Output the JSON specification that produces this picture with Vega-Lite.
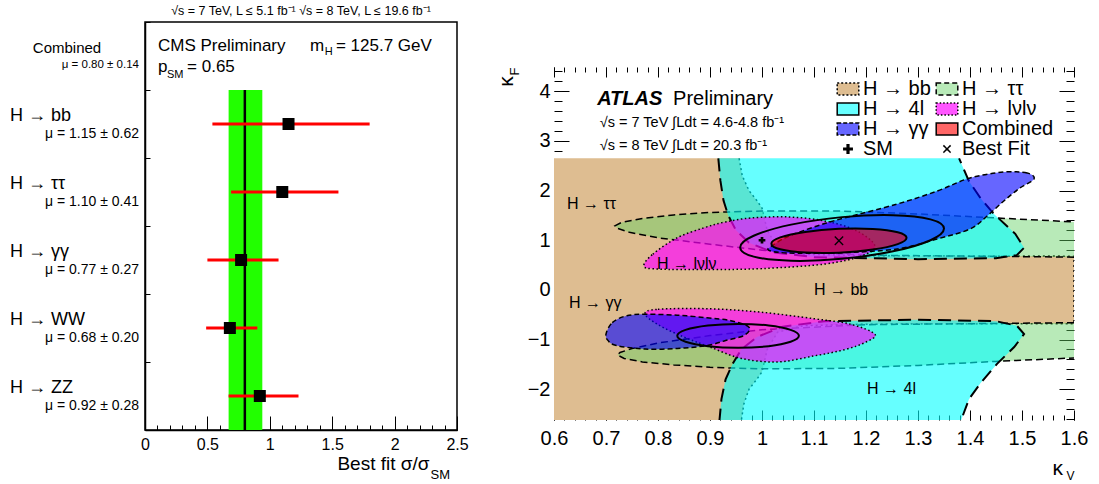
{
"$schema": "https://vega.github.io/schema/vega-lite/v6.json",
"background": "white",
"padding": {"left": 9, "top": 4, "right": 5, "bottom": 0},
"spacing": 26,
"resolve": {"legend": {"fill": "independent", "shape": "independent", "strokeDash": "independent"}},
"config": {
 "font": "Liberation Sans",
 "view": {"stroke": "black", "strokeWidth": 1.5},
 "axis": {"grid": false, "labelFont": "Liberation Sans", "titleFont": "Liberation Sans", "titleFontWeight": "normal", "labelColor": "black", "titleColor": "black", "tickColor": "black", "domainColor": "black", "domainWidth": 1.5, "tickWidth": 1, "zindex": 1, "labelFlush": false, "labelOverlap": false, "labelBound": false},
 "title": {"font": "Liberation Sans", "color": "black", "fontWeight": "normal"},
 "legend": {"labelFont": "Liberation Sans", "labelColor": "black"},
 "text": {"font": "Liberation Sans", "color": "black"}
},
"datasets": {
 "mu": [
  {"ch": "Combined", "mu": 0.80, "lo": 0.67, "hi": 0.94, "mt": "μ = 0.80 ± 0.14"},
  {"ch": "H → bb", "mu": 1.15, "lo": 0.54, "hi": 1.80, "mt": "μ = 1.15 ± 0.62"},
  {"ch": "H → ττ", "mu": 1.10, "lo": 0.69, "hi": 1.55, "mt": "μ = 1.10 ± 0.41"},
  {"ch": "H → γγ", "mu": 0.77, "lo": 0.50, "hi": 1.07, "mt": "μ = 0.77 ± 0.27"},
  {"ch": "H → WW", "mu": 0.68, "lo": 0.49, "hi": 0.90, "mt": "μ = 0.68 ± 0.20"},
  {"ch": "H → ZZ", "mu": 0.92, "lo": 0.67, "hi": 1.23, "mt": "μ = 0.92 ± 0.28"}
 ],
 "contours": [
  {"part":"bb","i":0,"kv":0.956,"kf":2.65},{"part":"bb","i":1,"kv":0.962,"kf":2.3},{"part":"bb","i":2,"kv":0.975,"kf":2.0},{"part":"bb","i":3,"kv":0.99,"kf":1.8},{"part":"bb","i":4,"kv":1.0,"kf":1.65},{"part":"bb","i":5,"kv":1.01,"kf":1.2},{"part":"bb","i":6,"kv":1.03,"kf":0.85},{"part":"bb","i":7,"kv":1.08,"kf":0.72},{"part":"bb","i":8,"kv":1.2,"kf":0.69},{"part":"bb","i":9,"kv":1.6,"kf":0.68},{"part":"bb","i":10,"kv":1.6,"kf":-0.68},{"part":"bb","i":11,"kv":1.2,"kf":-0.69},{"part":"bb","i":12,"kv":1.08,"kf":-0.72},{"part":"bb","i":13,"kv":1.03,"kf":-0.85},{"part":"bb","i":14,"kv":1.01,"kf":-1.2},{"part":"bb","i":15,"kv":1.0,"kf":-1.65},{"part":"bb","i":16,"kv":0.99,"kf":-1.8},{"part":"bb","i":17,"kv":0.975,"kf":-2.0},{"part":"bb","i":18,"kv":0.965,"kf":-2.3},{"part":"bb","i":19,"kv":0.96,"kf":-2.65},{"part":"bb","i":20,"kv":0.6,"kf":-2.65},{"part":"bb","i":21,"kv":0.6,"kf":2.65},
  {"part":"tt_u","i":0,"kv":1.6,"kf":0.66},{"part":"tt_u","i":1,"kv":1.4,"kf":0.68},{"part":"tt_u","i":2,"kv":1.2,"kf":0.7},{"part":"tt_u","i":3,"kv":1.0,"kf":0.8},{"part":"tt_u","i":4,"kv":0.9,"kf":0.92},{"part":"tt_u","i":5,"kv":0.8,"kf":1.05},{"part":"tt_u","i":6,"kv":0.745,"kf":1.16},{"part":"tt_u","i":7,"kv":0.722,"kf":1.24},{"part":"tt_u","i":8,"kv":0.717,"kf":1.29},{"part":"tt_u","i":9,"kv":0.73,"kf":1.36},{"part":"tt_u","i":10,"kv":0.77,"kf":1.44},{"part":"tt_u","i":11,"kv":0.83,"kf":1.51},{"part":"tt_u","i":12,"kv":0.9,"kf":1.56},{"part":"tt_u","i":13,"kv":1.0,"kf":1.59},{"part":"tt_u","i":14,"kv":1.15,"kf":1.59},{"part":"tt_u","i":15,"kv":1.3,"kf":1.53},{"part":"tt_u","i":16,"kv":1.45,"kf":1.45},{"part":"tt_u","i":17,"kv":1.6,"kf":1.37},
  {"part":"tt_d","i":0,"kv":1.6,"kf":-0.66},{"part":"tt_d","i":1,"kv":1.4,"kf":-0.68},{"part":"tt_d","i":2,"kv":1.2,"kf":-0.7},{"part":"tt_d","i":3,"kv":1.0,"kf":-0.8},{"part":"tt_d","i":4,"kv":0.9,"kf":-0.92},{"part":"tt_d","i":5,"kv":0.8,"kf":-1.07},{"part":"tt_d","i":6,"kv":0.75,"kf":-1.18},{"part":"tt_d","i":7,"kv":0.727,"kf":-1.26},{"part":"tt_d","i":8,"kv":0.722,"kf":-1.31},{"part":"tt_d","i":9,"kv":0.735,"kf":-1.38},{"part":"tt_d","i":10,"kv":0.77,"kf":-1.45},{"part":"tt_d","i":11,"kv":0.83,"kf":-1.51},{"part":"tt_d","i":12,"kv":0.9,"kf":-1.56},{"part":"tt_d","i":13,"kv":1.0,"kf":-1.59},{"part":"tt_d","i":14,"kv":1.15,"kf":-1.58},{"part":"tt_d","i":15,"kv":1.3,"kf":-1.52},{"part":"tt_d","i":16,"kv":1.45,"kf":-1.44},{"part":"tt_d","i":17,"kv":1.6,"kf":-1.37},
  {"part":"4l_u","i":0,"kv":0.916,"kf":2.65},{"part":"4l_u","i":1,"kv":0.92,"kf":2.2},{"part":"4l_u","i":2,"kv":0.926,"kf":1.8},{"part":"4l_u","i":3,"kv":0.935,"kf":1.5},{"part":"4l_u","i":4,"kv":0.95,"kf":1.2},{"part":"4l_u","i":5,"kv":0.975,"kf":0.95},{"part":"4l_u","i":6,"kv":1.02,"kf":0.76},{"part":"4l_u","i":7,"kv":1.1,"kf":0.66},{"part":"4l_u","i":8,"kv":1.3,"kf":0.62},{"part":"4l_u","i":9,"kv":1.45,"kf":0.64},{"part":"4l_u","i":10,"kv":1.49,"kf":0.7},{"part":"4l_u","i":11,"kv":1.504,"kf":0.85},{"part":"4l_u","i":12,"kv":1.487,"kf":1.13},{"part":"4l_u","i":13,"kv":1.446,"kf":1.53},{"part":"4l_u","i":14,"kv":1.42,"kf":1.85},{"part":"4l_u","i":15,"kv":1.398,"kf":2.19},{"part":"4l_u","i":16,"kv":1.379,"kf":2.65},
  {"part":"4l_d","i":0,"kv":0.918,"kf":-2.65},{"part":"4l_d","i":1,"kv":0.922,"kf":-2.2},{"part":"4l_d","i":2,"kv":0.93,"kf":-1.8},{"part":"4l_d","i":3,"kv":0.943,"kf":-1.5},{"part":"4l_d","i":4,"kv":0.96,"kf":-1.2},{"part":"4l_d","i":5,"kv":0.99,"kf":-0.95},{"part":"4l_d","i":6,"kv":1.04,"kf":-0.74},{"part":"4l_d","i":7,"kv":1.12,"kf":-0.63},{"part":"4l_d","i":8,"kv":1.3,"kf":-0.6},{"part":"4l_d","i":9,"kv":1.45,"kf":-0.63},{"part":"4l_d","i":10,"kv":1.49,"kf":-0.72},{"part":"4l_d","i":11,"kv":1.504,"kf":-0.89},{"part":"4l_d","i":12,"kv":1.485,"kf":-1.15},{"part":"4l_d","i":13,"kv":1.452,"kf":-1.49},{"part":"4l_d","i":14,"kv":1.42,"kf":-1.88},{"part":"4l_d","i":15,"kv":1.398,"kf":-2.2},{"part":"4l_d","i":16,"kv":1.382,"kf":-2.65},
  {"part":"lv_u","i":0,"kv":0.773,"kf":0.48},{"part":"lv_u","i":1,"kv":0.79,"kf":0.72},{"part":"lv_u","i":2,"kv":0.837,"kf":1.05},{"part":"lv_u","i":3,"kv":0.888,"kf":1.25},{"part":"lv_u","i":4,"kv":0.93,"kf":1.37},{"part":"lv_u","i":5,"kv":0.98,"kf":1.45},{"part":"lv_u","i":6,"kv":1.05,"kf":1.47},{"part":"lv_u","i":7,"kv":1.12,"kf":1.39},{"part":"lv_u","i":8,"kv":1.18,"kf":1.2},{"part":"lv_u","i":9,"kv":1.217,"kf":0.89},{"part":"lv_u","i":10,"kv":1.19,"kf":0.68},{"part":"lv_u","i":11,"kv":1.12,"kf":0.52},{"part":"lv_u","i":12,"kv":1.0,"kf":0.43},{"part":"lv_u","i":13,"kv":0.9,"kf":0.41},{"part":"lv_u","i":14,"kv":0.8,"kf":0.42},
  {"part":"lv_d","i":0,"kv":0.775,"kf":-0.48},{"part":"lv_d","i":1,"kv":0.8,"kf":-0.39},{"part":"lv_d","i":2,"kv":0.9,"kf":-0.38},{"part":"lv_d","i":3,"kv":1.0,"kf":-0.45},{"part":"lv_d","i":4,"kv":1.1,"kf":-0.58},{"part":"lv_d","i":5,"kv":1.17,"kf":-0.69},{"part":"lv_d","i":6,"kv":1.217,"kf":-0.89},{"part":"lv_d","i":7,"kv":1.2,"kf":-1.05},{"part":"lv_d","i":8,"kv":1.16,"kf":-1.2},{"part":"lv_d","i":9,"kv":1.1,"kf":-1.33},{"part":"lv_d","i":10,"kv":1.03,"kf":-1.45},{"part":"lv_d","i":11,"kv":0.96,"kf":-1.38},{"part":"lv_d","i":12,"kv":0.9,"kf":-1.15},{"part":"lv_d","i":13,"kv":0.85,"kf":-0.95},{"part":"lv_d","i":14,"kv":0.8,"kf":-0.7},
  {"part":"gg_u","i":0,"kv":1.523,"kf":2.233},{"part":"gg_u","i":1,"kv":1.51,"kf":2.354},{"part":"gg_u","i":2,"kv":1.465,"kf":2.374},{"part":"gg_u","i":3,"kv":1.4,"kf":2.254},{"part":"gg_u","i":4,"kv":1.337,"kf":1.992},{"part":"gg_u","i":5,"kv":1.26,"kf":1.73},{"part":"gg_u","i":6,"kv":1.158,"kf":1.449},{"part":"gg_u","i":7,"kv":1.106,"kf":1.288},{"part":"gg_u","i":8,"kv":1.048,"kf":1.066},{"part":"gg_u","i":9,"kv":1.019,"kf":0.885},{"part":"gg_u","i":10,"kv":1.013,"kf":0.8},{"part":"gg_u","i":11,"kv":1.048,"kf":0.745},{"part":"gg_u","i":12,"kv":1.144,"kf":0.745},{"part":"gg_u","i":13,"kv":1.26,"kf":0.825},{"part":"gg_u","i":14,"kv":1.337,"kf":1.026},{"part":"gg_u","i":15,"kv":1.4,"kf":1.227},{"part":"gg_u","i":16,"kv":1.433,"kf":1.489},{"part":"gg_u","i":17,"kv":1.465,"kf":1.791},{"part":"gg_u","i":18,"kv":1.496,"kf":2.052},
  {"part":"gg_d","i":0,"kv":0.7,"kf":-0.89},{"part":"gg_d","i":1,"kv":0.712,"kf":-0.66},{"part":"gg_d","i":2,"kv":0.74,"kf":-0.52},{"part":"gg_d","i":3,"kv":0.779,"kf":-0.49},{"part":"gg_d","i":4,"kv":0.837,"kf":-0.51},{"part":"gg_d","i":5,"kv":0.894,"kf":-0.56},{"part":"gg_d","i":6,"kv":0.94,"kf":-0.62},{"part":"gg_d","i":7,"kv":0.975,"kf":-0.75},{"part":"gg_d","i":8,"kv":0.965,"kf":-0.92},{"part":"gg_d","i":9,"kv":0.93,"kf":-1.02},{"part":"gg_d","i":10,"kv":0.894,"kf":-1.12},{"part":"gg_d","i":11,"kv":0.837,"kf":-1.18},{"part":"gg_d","i":12,"kv":0.775,"kf":-1.19},{"part":"gg_d","i":13,"kv":0.72,"kf":-1.12},{"part":"gg_d","i":14,"kv":0.704,"kf":-1.02},
  {"part":"co_in","i":0,"kv":1.278,"kf":1.05},{"part":"co_in","i":1,"kv":1.261,"kf":1.162},{"part":"co_in","i":2,"kv":1.213,"kf":1.228},{"part":"co_in","i":3,"kv":1.148,"kf":1.23},{"part":"co_in","i":4,"kv":1.083,"kf":1.168},{"part":"co_in","i":5,"kv":1.035,"kf":1.058},{"part":"co_in","i":6,"kv":1.018,"kf":0.93},{"part":"co_in","i":7,"kv":1.035,"kf":0.818},{"part":"co_in","i":8,"kv":1.083,"kf":0.752},{"part":"co_in","i":9,"kv":1.148,"kf":0.75},{"part":"co_in","i":10,"kv":1.213,"kf":0.812},{"part":"co_in","i":11,"kv":1.261,"kf":0.922},
  {"part":"co_out","i":0,"kv":1.35,"kf":1.236},{"part":"co_out","i":1,"kv":1.324,"kf":1.421},{"part":"co_out","i":2,"kv":1.252,"kf":1.505},{"part":"co_out","i":3,"kv":1.154,"kf":1.466},{"part":"co_out","i":4,"kv":1.056,"kf":1.315},{"part":"co_out","i":5,"kv":0.984,"kf":1.091},{"part":"co_out","i":6,"kv":0.958,"kf":0.856},{"part":"co_out","i":7,"kv":0.984,"kf":0.671},{"part":"co_out","i":8,"kv":1.056,"kf":0.587},{"part":"co_out","i":9,"kv":1.154,"kf":0.626},{"part":"co_out","i":10,"kv":1.252,"kf":0.777},{"part":"co_out","i":11,"kv":1.324,"kf":1.001},
  {"part":"co_out2","i":0,"kv":1.071,"kf":-0.925},{"part":"co_out2","i":1,"kv":1.055,"kf":-0.805},{"part":"co_out2","i":2,"kv":1.013,"kf":-0.717},{"part":"co_out2","i":3,"kv":0.954,"kf":-0.685},{"part":"co_out2","i":4,"kv":0.896,"kf":-0.717},{"part":"co_out2","i":5,"kv":0.853,"kf":-0.805},{"part":"co_out2","i":6,"kv":0.837,"kf":-0.925},{"part":"co_out2","i":7,"kv":0.853,"kf":-1.045},{"part":"co_out2","i":8,"kv":0.896,"kf":-1.133},{"part":"co_out2","i":9,"kv":0.954,"kf":-1.165},{"part":"co_out2","i":10,"kv":1.013,"kf":-1.133},{"part":"co_out2","i":11,"kv":1.055,"kf":-1.045}
 ]
},
"hconcat": [
 {
  "width": 312, "height": 408,
  "title": {"text": "√s = 7 TeV, L ≤ 5.1 fb⁻¹  √s = 8 TeV, L ≤ 19.6 fb⁻¹", "fontSize": 12.5, "fontWeight": "normal", "offset": 4, "anchor": "middle"},
  "data": {"name": "mu"},
  "encoding": {
   "x": {"field": "mu", "type": "quantitative", "scale": {"domain": [0, 2.5], "nice": false, "zero": false}, "axis": null},
   "y": {"field": "ch", "type": "nominal", "scale": {"type": "band", "domain": ["Combined", "H → bb", "H → ττ", "H → γγ", "H → WW", "H → ZZ"], "paddingInner": 0, "paddingOuter": 0}, "axis": null}
  },
  "resolve": {"axis": {"x": "independent", "y": "independent"}},
  "layer": [
   {"transform": [{"filter": "datum.ch == 'Combined'"}],
    "mark": {"type": "rect", "color": "#22ff00"},
    "encoding": {
     "x": {"field": "lo", "type": "quantitative", "axis": null},
     "x2": {"field": "hi"},
     "y": {"datum": "H → bb", "bandPosition": 0, "axis": null},
     "y2": {"datum": "H → ZZ", "bandPosition": 1}
    }},
   {"transform": [{"filter": "datum.ch == 'Combined'"}],
    "mark": {"type": "rule", "color": "black", "strokeWidth": 2.5},
    "encoding": {
     "y": {"datum": "H → bb", "bandPosition": 0, "axis": null},
     "y2": {"datum": "H → ZZ", "bandPosition": 1}
    }},
   {"transform": [{"filter": "datum.ch != 'Combined'"}],
    "mark": {"type": "rule", "color": "#ff0000", "strokeWidth": 3},
    "encoding": {
     "x": {"field": "lo", "type": "quantitative", "axis": null},
     "x2": {"field": "hi"}
    }},
   {"transform": [{"filter": "datum.ch != 'Combined'"}],
    "mark": {"type": "point", "shape": "square", "filled": true, "color": "black", "size": 144, "opacity": 1}},
   {"transform": [{"filter": "datum.ch != 'Combined'"}],
    "mark": {"type": "text", "align": "left", "baseline": "alphabetic", "dx": -135, "dy": -3, "fontSize": 18},
    "encoding": {"x": {"datum": 0, "axis": null}, "text": {"field": "ch"}}},
   {"transform": [{"filter": "datum.ch != 'Combined'"}],
    "mark": {"type": "text", "align": "right", "baseline": "alphabetic", "dx": -6, "dy": 14, "fontSize": 14},
    "encoding": {"x": {"datum": 0, "axis": null}, "text": {"field": "mt"}}},
   {"transform": [{"filter": "datum.ch == 'Combined'"}],
    "mark": {"type": "text", "align": "center", "baseline": "alphabetic", "dx": -78, "dy": -3, "fontSize": 15},
    "encoding": {"x": {"datum": 0, "axis": null}, "text": {"field": "ch"}}},
   {"transform": [{"filter": "datum.ch == 'Combined'"}],
    "mark": {"type": "text", "align": "right", "baseline": "alphabetic", "dx": -6, "dy": 12, "fontSize": 11.5},
    "encoding": {"x": {"datum": 0, "axis": null}, "text": {"field": "mt"}}},
   {"data": {"values": [{"t": "CMS Preliminary", "x": 0.104}, {"t": "m", "x": 1.322}, {"t": "= 125.7 GeV", "x": 1.53}]},
    "mark": {"type": "text", "align": "left", "baseline": "alphabetic", "dy": -5, "fontSize": 17},
    "encoding": {"x": {"field": "x", "type": "quantitative", "axis": null}, "y": {"datum": "Combined", "axis": null}, "text": {"field": "t"}}},
   {"data": {"values": [{"t": "H", "x": 1.44}]},
    "mark": {"type": "text", "align": "left", "baseline": "alphabetic", "dy": -1, "fontSize": 11},
    "encoding": {"x": {"field": "x", "type": "quantitative", "axis": null}, "y": {"datum": "Combined", "axis": null}, "text": {"field": "t"}}},
   {"data": {"values": [{"t": "p", "x": 0.104}, {"t": "= 0.65", "x": 0.337}]},
    "mark": {"type": "text", "align": "left", "baseline": "alphabetic", "dy": 16, "fontSize": 17},
    "encoding": {"x": {"field": "x", "type": "quantitative", "axis": null}, "y": {"datum": "Combined", "axis": null}, "text": {"field": "t"}}},
   {"data": {"values": [{"t": "SM", "x": 0.176}]},
    "mark": {"type": "text", "align": "left", "baseline": "alphabetic", "dy": 22, "fontSize": 11},
    "encoding": {"x": {"field": "x", "type": "quantitative", "axis": null}, "y": {"datum": "Combined", "axis": null}, "text": {"field": "t"}}},
   {"transform": [{"filter": "false"}],
    "mark": {"type": "point", "opacity": 0},
    "encoding": {
     "x": {"field": "mu", "type": "quantitative", "scale": {"domain": [0, 2.5], "nice": false, "zero": false},
       "axis": {"orient": "bottom", "values": [0, 0.5, 1, 1.5, 2, 2.5], "format": "~g", "labelFontSize": 16, "ticks": false, "tickSize": 0, "domain": false, "labelPadding": 6, "title": "Best fit σ/σ", "titleFontSize": 19, "titleX": 284, "titleY": 39, "titleAlign": "right", "titleBaseline": "alphabetic"}},
     "y": {"field": "ch", "type": "nominal", "axis": null}
    }},
   {"transform": [{"filter": "false"}],
    "mark": {"type": "point", "opacity": 0},
    "encoding": {
     "x": {"field": "mu", "type": "quantitative",
       "axis": {"orient": "top", "offset": -408, "values": [0, 0.5, 1, 1.5, 2, 2.5], "labels": false, "tickSize": 14, "domain": true, "title": "SM", "titleFontSize": 13, "titleX": 285, "titleY": 48, "titleAlign": "left", "titleBaseline": "alphabetic"}},
     "y": {"field": "ch", "type": "nominal",
       "axis": {"orient": "right", "offset": -312, "bandPosition": 0, "labels": false, "tickSize": 5, "domain": true, "title": null}}
    }},
   {"transform": [{"filter": "false"}],
    "mark": {"type": "point", "opacity": 0},
    "encoding": {
     "x": {"field": "mu", "type": "quantitative",
       "axis": {"orient": "top", "offset": -408, "values": [0,0.1,0.2,0.3,0.4,0.5,0.6,0.7,0.8,0.9,1,1.1,1.2,1.3,1.4,1.5,1.6,1.7,1.8,1.9,2,2.1,2.2,2.3,2.4,2.5], "labels": false, "tickSize": 5, "domain": false, "title": null}},
     "y": {"field": "ch", "type": "nominal", "axis": null}
    }}
  ]
 },
 {
  "width": 520, "height": 398,
  "view": {"stroke": null},
  "data": {"name": "contours"},
  "encoding": {
   "x": {"field": "kv", "type": "quantitative", "scale": {"domain": [0.6, 1.6], "nice": false, "zero": false}, "axis": null},
   "y": {"field": "kf", "type": "quantitative", "scale": {"domain": [-2.62, 5.396], "nice": false, "zero": false}, "axis": null}
  },
  "resolve": {"axis": {"x": "independent", "y": "independent"}},
  "layer": [
   {"transform": [{"filter": "datum.part == 'bb'"}],
    "mark": {"type": "line", "interpolate": "linear-closed", "fill": "#DEBD91", "fillOpacity": 1, "strokeOpacity": 0, "clip": true},
    "encoding": {"order": {"field": "i", "type": "quantitative"}}},
   {"transform": [{"filter": "datum.part == 'bb' && datum.kv > 0.6"}],
    "mark": {"type": "line", "interpolate": "linear", "color": "black", "strokeWidth": 1.5, "strokeDash": [2, 3], "clip": true},
    "encoding": {"order": {"field": "i", "type": "quantitative"}}},
   {"transform": [{"filter": {"field": "part", "oneOf": ["tt_u", "tt_d"]}}],
    "mark": {"type": "line", "interpolate": "linear-closed", "fill": "rgb(98,209,98)", "fillOpacity": 0.45, "strokeOpacity": 0, "clip": true},
    "encoding": {"order": {"field": "i", "type": "quantitative"}, "detail": {"field": "part"}}},
   {"transform": [{"filter": {"field": "part", "oneOf": ["tt_u", "tt_d"]}}],
    "mark": {"type": "line", "interpolate": "linear", "color": "black", "strokeWidth": 1.5, "strokeDash": [7, 4], "clip": true},
    "encoding": {"order": {"field": "i", "type": "quantitative"}, "detail": {"field": "part"}}},
   {"transform": [{"filter": {"field": "part", "oneOf": ["4l_u", "4l_d"]}}],
    "mark": {"type": "line", "interpolate": "linear-closed", "fill": "#00ffff", "fillOpacity": 0.6, "strokeOpacity": 0, "clip": true},
    "encoding": {"order": {"field": "i", "type": "quantitative"}, "detail": {"field": "part"}}},
   {"transform": [{"filter": {"field": "part", "oneOf": ["4l_u", "4l_d"]}}],
    "mark": {"type": "line", "interpolate": "linear", "color": "black", "strokeWidth": 2, "strokeDash": [13, 7], "clip": true},
    "encoding": {"order": {"field": "i", "type": "quantitative"}, "detail": {"field": "part"}}},
   {"transform": [{"filter": {"field": "part", "oneOf": ["lv_u", "lv_d"]}}],
    "mark": {"type": "line", "interpolate": "cardinal-closed", "fill": "#ff00ff", "fillOpacity": 0.67, "color": "black", "strokeWidth": 1.5, "strokeDash": [1.5, 2.5], "clip": true},
    "encoding": {"order": {"field": "i", "type": "quantitative"}, "detail": {"field": "part"}}},
   {"transform": [{"filter": {"field": "part", "oneOf": ["gg_u", "gg_d"]}}],
    "mark": {"type": "line", "interpolate": "cardinal-closed", "fill": "#0000ff", "fillOpacity": 0.6, "color": "black", "strokeWidth": 1.5, "strokeDash": [5, 3], "clip": true},
    "encoding": {"order": {"field": "i", "type": "quantitative"}, "detail": {"field": "part"}}},
   {"transform": [{"filter": "datum.part == 'co_in'"}],
    "mark": {"type": "line", "interpolate": "cardinal-closed", "fill": "#ff0000", "fillOpacity": 0.6, "color": "black", "strokeWidth": 2, "clip": true},
    "encoding": {"order": {"field": "i", "type": "quantitative"}}},
   {"transform": [{"filter": {"field": "part", "oneOf": ["co_out", "co_out2"]}}],
    "mark": {"type": "line", "interpolate": "cardinal-closed", "color": "black", "strokeWidth": 2, "clip": true},
    "encoding": {"order": {"field": "i", "type": "quantitative"}, "detail": {"field": "part"}}},
   {"data": {"values": [{"kv": 1.0, "kf": 1.0}]},
    "mark": {"type": "point", "shape": "cross", "filled": true, "color": "black", "size": 45, "opacity": 1}},
   {"data": {"values": [{"kv": 1.148, "kf": 0.99}]},
    "mark": {"type": "point", "shape": "M-1,-1L1,1M1,-1L-1,1", "filled": false, "color": "black", "strokeWidth": 1.3, "size": 70, "opacity": 1}},
   {"data": {"values": [{"f": "frame"}]},
    "mark": {"type": "rect", "filled": false, "stroke": "black", "strokeWidth": 1.5},
    "encoding": {"x": {"datum": 0.6, "axis": null}, "x2": {"datum": 1.6}, "y": {"datum": -2.62, "axis": null}, "y2": {"datum": 4.49}}},
   {"data": {"values": [{"kv": 0.683, "kf": 3.72, "t": "ATLAS"}]},
    "mark": {"type": "text", "align": "left", "baseline": "alphabetic", "fontSize": 20, "fontWeight": "bold", "fontStyle": "italic"},
    "encoding": {"text": {"field": "t"}}},
   {"data": {"values": [{"kv": 0.829, "kf": 3.72, "t": "Preliminary"}]},
    "mark": {"type": "text", "align": "left", "baseline": "alphabetic", "fontSize": 20},
    "encoding": {"text": {"field": "t"}}},
   {"data": {"values": [{"kv": 0.688, "kf": 3.28, "t": "√s = 7 TeV ∫Ldt = 4.6-4.8 fb⁻¹"}, {"kv": 0.688, "kf": 2.82, "t": "√s = 8 TeV ∫Ldt = 20.3 fb⁻¹"}]},
    "mark": {"type": "text", "align": "left", "baseline": "alphabetic", "fontSize": 14.5},
    "encoding": {"text": {"field": "t"}}},
   {"data": {"values": [{"kv": 0.625, "kf": 1.73, "t": "H → ττ"}, {"kv": 0.798, "kf": 0.52, "t": "H → lνlν"}, {"kv": 1.1, "kf": 0.0, "t": "H → bb"}, {"kv": 0.629, "kf": -0.26, "t": "H → γγ"}, {"kv": 1.202, "kf": -1.99, "t": "H → 4l"}]},
    "mark": {"type": "text", "align": "left", "baseline": "middle", "fontSize": 16},
    "encoding": {"text": {"field": "t"}}},
   {"transform": [{"filter": "false"}],
    "mark": {"type": "point", "filled": true, "stroke": "black", "opacity": 1},
    "encoding": {
     "fill": {"field": "name", "type": "nominal",
       "scale": {"domain": ["H → bb", "H → 4l", "H → γγ", "SM", "H → ττ", "H → lνlν", "Combined", "Best Fit"], "range": ["#DEBD91", "#66FFFF", "#6666FF", "black", "#B8EAB8", "#FF55FF", "#FF6666", "black"]},
       "legend": {"orient": "none", "legendX": 284, "legendY": 57, "columns": 2, "title": null, "labelFontSize": 20, "symbolSize": 144, "symbolStrokeWidth": 1.5, "symbolStrokeColor": "black", "rowPadding": -11, "columnPadding": 2, "labelOffset": 5, "padding": 0, "symbolOpacity": 1,
         "encode": {"symbols": {"update": {"stroke": {"value": "black"}, "strokeWidth": {"value": 1.5}}}}}},
     "shape": {"field": "name", "type": "nominal",
       "scale": {"domain": ["H → bb", "H → 4l", "H → γγ", "SM", "H → ττ", "H → lνlν", "Combined", "Best Fit"], "range": ["M-1.8,-1H1.8V1H-1.8Z", "M-1.8,-1H1.8V1H-1.8Z", "M-1.8,-1H1.8V1H-1.8Z", "M-0.7,-0.14H0.7V0.14H-0.7Z M-0.14,-0.7H0.14V0.7H-0.14Z", "M-1.8,-1H1.8V1H-1.8Z", "M-1.8,-1H1.8V1H-1.8Z", "M-1.8,-1H1.8V1H-1.8Z", "M-0.6,-0.6L0.6,0.6M0.6,-0.6L-0.6,0.6"]},
       "legend": {"orient": "none", "legendX": 284, "legendY": 57, "columns": 2, "title": null, "labelFontSize": 20, "symbolSize": 144, "symbolStrokeWidth": 1.5, "symbolStrokeColor": "black", "rowPadding": -11, "columnPadding": 2, "labelOffset": 5, "padding": 0, "symbolOpacity": 1,
         "encode": {"symbols": {"update": {"stroke": {"value": "black"}, "strokeWidth": {"value": 1.5}}}}}},
     "strokeDash": {"field": "name", "type": "nominal",
       "scale": {"domain": ["H → bb", "H → 4l", "H → γγ", "SM", "H → ττ", "H → lνlν", "Combined", "Best Fit"], "range": [[2, 2], [1, 0], [4, 2], [1, 0], [5, 3], [1.5, 2], [1, 0], [1, 0]]},
       "legend": {"orient": "none", "legendX": 284, "legendY": 57, "columns": 2, "title": null, "labelFontSize": 20, "symbolSize": 144, "symbolStrokeWidth": 1.5, "symbolStrokeColor": "black", "rowPadding": -11, "columnPadding": 2, "labelOffset": 5, "padding": 0, "symbolOpacity": 1,
         "encode": {"symbols": {"update": {"stroke": {"value": "black"}, "strokeWidth": {"value": 1.5}}}}}}
    }},
   {"transform": [{"filter": "false"}],
    "mark": {"type": "point", "opacity": 0},
    "encoding": {
     "x": {"field": "kv", "type": "quantitative", "scale": {"domain": [0.6, 1.6], "nice": false, "zero": false},
       "axis": {"orient": "bottom", "values": [0.6, 0.7, 0.8, 0.9, 1, 1.1, 1.2, 1.3, 1.4, 1.5, 1.6], "format": "~g", "labelFontSize": 20, "ticks": false, "tickSize": 0, "domain": false, "labelPadding": 8, "title": "κ", "titleFontSize": 21, "titleX": 498, "titleY": 54, "titleAlign": "left", "titleBaseline": "alphabetic"}},
     "y": {"field": "kf", "type": "quantitative", "scale": {"domain": [-2.62, 5.396], "nice": false, "zero": false},
       "axis": {"orient": "left", "values": [-2, -1, 0, 1, 2, 3, 4], "format": "~g", "labelFontSize": 20, "ticks": false, "tickSize": 0, "domain": false, "labelPadding": 4, "title": "κ", "titleFontSize": 21, "titleAngle": 270, "titleX": -42, "titleY": 59, "titleAlign": "center", "titleBaseline": "alphabetic"}}
    }},
   {"transform": [{"filter": "false"}],
    "mark": {"type": "point", "opacity": 0},
    "encoding": {
     "x": {"field": "kv", "type": "quantitative",
       "axis": {"orient": "top", "offset": -398, "values": [0.6, 0.7, 0.8, 0.9, 1, 1.1, 1.2, 1.3, 1.4, 1.5, 1.6], "labels": false, "tickSize": 10, "domain": false, "title": "V", "titleFontSize": 12, "titleX": 512, "titleY": 59, "titleAlign": "left", "titleBaseline": "alphabetic"}},
     "y": {"field": "kf", "type": "quantitative",
       "axis": {"orient": "right", "offset": -520, "values": [-2, -1, 0, 1, 2, 3, 4], "labels": false, "tickSize": 15, "domain": false, "title": "F", "titleFontSize": 13, "titleAngle": 270, "titleX": -36, "titleY": 49, "titleAlign": "center", "titleBaseline": "alphabetic"}}
    }},
   {"transform": [{"filter": "false"}],
    "mark": {"type": "point", "opacity": 0},
    "encoding": {
     "x": {"field": "kv", "type": "quantitative",
       "axis": {"orient": "top", "offset": -398, "values": [0.6,0.62,0.64,0.66,0.68,0.7,0.72,0.74,0.76,0.78,0.8,0.82,0.84,0.86,0.88,0.9,0.92,0.94,0.96,0.98,1,1.02,1.04,1.06,1.08,1.1,1.12,1.14,1.16,1.18,1.2,1.22,1.24,1.26,1.28,1.3,1.32,1.34,1.36,1.38,1.4,1.42,1.44,1.46,1.48,1.5,1.52,1.54,1.56,1.58,1.6], "labels": false, "tickSize": 5, "domain": false, "title": null}},
     "y": {"field": "kf", "type": "quantitative",
       "axis": {"orient": "right", "offset": -520, "values": [-2.6,-2.4,-2.2,-2,-1.8,-1.6,-1.4,-1.2,-1,-0.8,-0.6,-0.4,-0.2,0,0.2,0.4,0.6,0.8,1,1.2,1.4,1.6,1.8,2,2.2,2.4,2.6,2.8,3,3.2,3.4,3.6,3.8,4,4.2,4.4], "labels": false, "tickSize": 8, "domain": false, "title": null}}
    }},
   {"transform": [{"filter": "false"}],
    "mark": {"type": "point", "opacity": 0},
    "encoding": {
     "x": {"field": "kv", "type": "quantitative",
       "axis": {"orient": "bottom", "offset": -353, "values": [0.6, 0.7, 0.8, 0.9, 1, 1.1, 1.2, 1.3, 1.4, 1.5, 1.6], "labels": false, "tickSize": 10, "domain": false, "title": null}},
     "y": {"field": "kf", "type": "quantitative",
       "axis": {"orient": "left", "offset": -520, "values": [-2, -1, 0, 1, 2, 3, 4], "labels": false, "tickSize": 15, "domain": false, "title": null}}
    }},
   {"transform": [{"filter": "false"}],
    "mark": {"type": "point", "opacity": 0},
    "encoding": {
     "x": {"field": "kv", "type": "quantitative",
       "axis": {"orient": "bottom", "offset": -353, "values": [0.6,0.62,0.64,0.66,0.68,0.7,0.72,0.74,0.76,0.78,0.8,0.82,0.84,0.86,0.88,0.9,0.92,0.94,0.96,0.98,1,1.02,1.04,1.06,1.08,1.1,1.12,1.14,1.16,1.18,1.2,1.22,1.24,1.26,1.28,1.3,1.32,1.34,1.36,1.38,1.4,1.42,1.44,1.46,1.48,1.5,1.52,1.54,1.56,1.58,1.6], "labels": false, "tickSize": 5, "domain": false, "title": null}},
     "y": {"field": "kf", "type": "quantitative",
       "axis": {"orient": "left", "offset": -520, "values": [-2.6,-2.4,-2.2,-2,-1.8,-1.6,-1.4,-1.2,-1,-0.8,-0.6,-0.4,-0.2,0,0.2,0.4,0.6,0.8,1,1.2,1.4,1.6,1.8,2,2.2,2.4,2.6,2.8,3,3.2,3.4,3.6,3.8,4,4.2,4.4], "labels": false, "tickSize": 8, "domain": false, "title": null}}
    }}
  ]
 }
]
}
